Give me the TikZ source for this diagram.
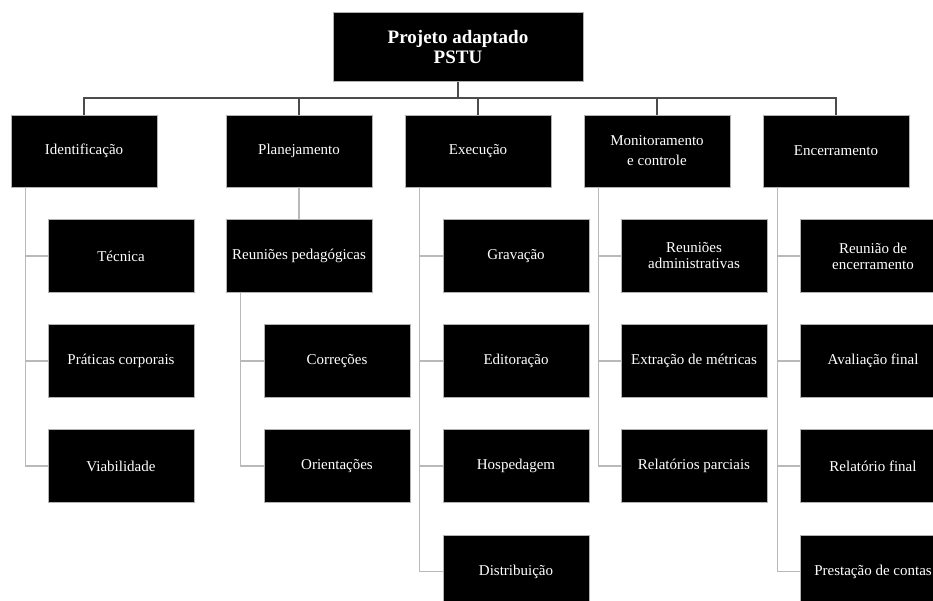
\documentclass[tikz,border=0pt]{standalone}
\usepackage{fontspec}
\setmainfont{Liberation Serif}
\begin{document}
\begin{tikzpicture}[x=1pt,y=-1pt,
  box/.style={draw=gray!60,line width=0.8pt,fill=black,text=white,inner sep=0pt,
    minimum width=146pt,minimum height=73pt,align=center,
    font=\fontsize{15}{20}\selectfont},
  lvl/.style={box,minimum height=72pt},
  rootbox/.style={box,minimum width=250pt,minimum height=69pt,
    font=\fontsize{19}{20}\selectfont\bfseries},
  topline/.style={draw=black!70,line width=1.4pt},
  subline/.style={draw=gray!55,line width=1.4pt}]
\clip (0,0) rectangle (933,601);
\fill[white] (0,0) rectangle (933,601);
% root
\node[rootbox] (root) at (458,47) {Projeto adaptado\\PSTU};
% level 1
\node[lvl] (id) at (84,151) {Identificação};
\node[lvl] (pl) at (299,151) {Planejamento};
\node[lvl] (ex) at (478,151) {Execução};
\node[lvl] (mo) at (657,151) {Monitoramento\\e controle};
\node[lvl] (en) at (836,151) {Encerramento};
% connectors root -> level 1
\foreach \n in {id,pl,ex,mo,en}
  \draw[topline] (root.south) -- ++(0,16) -| (\n.north);
% Identificação children
\node[box] (tec) at (121,256) {Técnica};
\node[box] (pra) at (121,361) {Práticas corporais};
\node[box] (via) at (121,466) {Viabilidade};
% Planejamento children
\node[box] (reu) at (299,256) {Reuniões pedagógicas};
\node[box] (cor) at (337,361) {Correções};
\node[box] (ori) at (337,466) {Orientações};
% Execução children
\node[box] (gra) at (516,256) {Gravação};
\node[box] (edi) at (516,361) {Editoração};
\node[box] (hos) at (516,466) {Hospedagem};
\node[box] (dis) at (516,571.5) {Distribuição};
% Monitoramento children
\node[box] (rad) at (694,256) {Reuniões\\[-4pt]administrativas};
\node[box] (ext) at (694,361) {Extração de métricas};
\node[box] (rel) at (694,466) {Relatórios parciais};
% Encerramento children
\node[box] (ren) at (873,256) {Reunião de\\[-4pt]encerramento};
\node[box] (ava) at (873,361) {Avaliação final};
\node[box] (rfi) at (873,466) {Relatório final};
\node[box] (pre) at (873,571.5) {Prestação de contas};
% child connectors
\foreach \p/\c in {id/tec,id/pra,id/via,reu/cor,reu/ori,ex/gra,ex/edi,ex/hos,ex/dis,mo/rad,mo/ext,mo/rel,en/ren,en/ava,en/rfi,en/pre}
  \draw[subline] ([xshift=15pt]\p.south west) |- (\c.west);
\draw[subline] (pl.south) -- (reu.north);
\end{tikzpicture}
\end{document}
